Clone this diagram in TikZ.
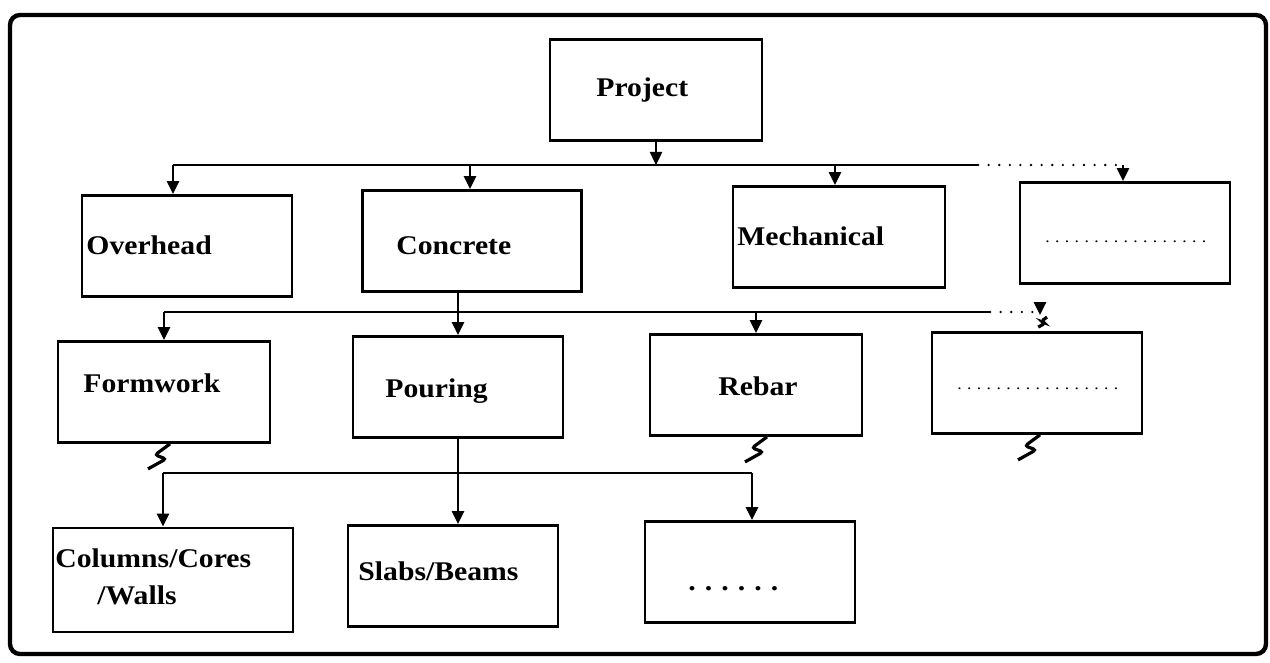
\documentclass[tikz,border=0pt]{standalone}
\usepackage{fontspec}
\setmainfont{Liberation Serif}[FakeStretch=1.1]
\usetikzlibrary{arrows.meta}

\begin{document}
\begin{tikzpicture}[x=0.5pt, y=-0.5pt,
    box/.style={draw, line width=1.4pt, minimum width=105pt, minimum height=50.5pt, inner sep=0pt},
    lbl/.style={anchor=base west, inner sep=0pt, font=\fontsize{13.5}{16}\selectfont\bfseries},
    dotlbl/.style={anchor=base west, inner sep=0pt, font=\fontsize{8}{10}\selectfont},
    wire/.style={line width=1.2pt},
    dotwire/.style={line width=1.3pt, line cap=round, dash pattern=on 0pt off 5.3pt},
    arr/.style={wire, -{Triangle[width=6pt, length=6.5pt]}},
    brk/.pic={\draw[line width=1.6pt, rounded corners=1.5pt] (0,0) -- (-15,11) -- (-4,15) -- (-22,25);}]
  \useasboundingbox (0,0) rectangle (1270,663);
  \draw[line width=2.2pt, rounded corners=5pt] (10,15) rectangle (1266,654);

  % boxes
  \node[box, minimum width=106pt] (project) at (656,90) {};
  \node[box] (overhead) at (187,246) {};
  \node[box, minimum width=109.5pt] (concrete) at (472,241) {};
  \node[box, minimum width=106pt] (mech) at (839,237) {};
  \node[box] (more1) at (1125,233) {};
  \node[box, minimum width=106pt] (formwork) at (164,392) {};
  \node[box] (pouring) at (458,387) {};
  \node[box, minimum width=106pt] (rebar) at (756,385) {};
  \node[box] (more2) at (1037,383) {};
  \node[box, minimum width=120pt, minimum height=52pt] (columns) at (173,580) {};
  \node[box] (slabs) at (453,576) {};
  \node[box] (more3) at (750,572) {};

  % texts
  \node[lbl] (project-t) at (596,97) {Project};
  \node[lbl] (overhead-t) at (86,255) {Overhead};
  \node[lbl] (concrete-t) at (396,255) {Concrete};
  \node[lbl] (mech-t) at (737,246) {Mechanical};
  \node[dotlbl] (more1-t) at (1045,243) {\makebox[76pt][s]{. . . . . . . . . . . . . . . . .}};
  \node[lbl] (formwork-t) at (83,393) {Formwork};
  \node[lbl] (pouring-t) at (385,398) {Pouring};
  \node[lbl] (rebar-t) at (718,395) {Rebar};
  \node[dotlbl] (more2-t) at (957,390) {\makebox[74pt][s]{. . . . . . . . . . . . . . . . .}};
  \node[lbl] (columns-t) at (55,567) {Columns/Cores};
  \node[lbl] (walls-t) at (97,604) {/Walls};
  \node[lbl] (slabs-t) at (358,580) {Slabs/Beams};
  \node[lbl] (more3-t) at (688,590) {\makebox[43pt][s]{. . . . . .}};

  % buses
  \coordinate (bus1) at (0,165);
  \coordinate (bus2) at (0,312);
  \coordinate (bus3) at (0,473);
  \foreach \n/\s in {overhead/-7, concrete/-1, mech/-2, more1/-1,
                     formwork/0, rebar/0, more2/1.5, columns/-5, more3/1}
    \path ([xshift=\s pt]\n.north) coordinate (\n-in);

  % project -> first row
  \draw[arr] (project.south) -- (project.south |- bus1);
  \draw[wire] (overhead-in |- bus1) -- (978,165) coordinate (gap1);
  \draw[dotwire] (gap1) -- (more1-in |- bus1);
  \foreach \n in {overhead, concrete, mech, more1}
    \draw[arr] (\n-in |- bus1) -- (\n-in);

  % concrete -> second row
  \draw[arr] (concrete.south -| pouring.north) -- (pouring.north);
  \draw[wire] (formwork-in |- bus2) -- (990,312) coordinate (gap2);
  \draw[dotwire] (gap2) -- (more2-in |- bus2);
  \foreach \n in {formwork, rebar}
    \draw[arr] (\n-in |- bus2) -- (\n-in);
  \draw[arr] (more2-in |- bus2) -- ([yshift=8pt]more2-in) coordinate (more2-brk);
  \pic[scale=0.4] at ([xshift=3.5pt, yshift=-1pt]more2-brk) {brk};

  % pouring -> third row
  \draw[arr] (pouring.south) -- (pouring.south |- slabs.north);
  \draw[wire] (columns-in |- bus3) -- (more3-in |- bus3);
  \foreach \n in {columns, more3}
    \draw[arr] (\n-in |- bus3) -- (\n-in);

  % breaks
  \pic at ([xshift=3pt]formwork.south) {brk};
  \pic at ([xshift=5.5pt]rebar.south) {brk};
  \pic at ([xshift=1.5pt]more2.south) {brk};
\end{tikzpicture}
\end{document}
